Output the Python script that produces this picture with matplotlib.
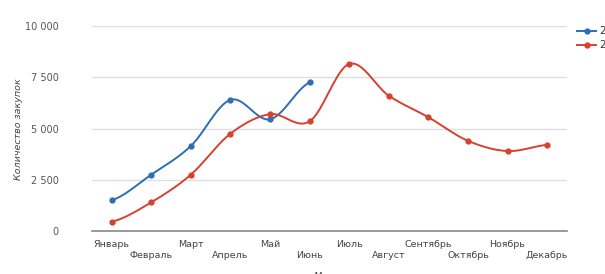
import numpy as np
import matplotlib.pyplot as plt

months = ['Январь', 'Февраль', 'Март', 'Апрель', 'Май', 'Июнь',
          'Июль', 'Август', 'Сентябрь', 'Октябрь', 'Ноябрь', 'Декабрь']
series_names = ['2017', '2016']
blue_vals = [1500, 2750, 4150, 6400, 5450, 7250]
red_vals = [450, 1400, 2750, 4750, 5700, 5350, 8150, 6600, 5550, 4400, 3900, 4200]
y_ticks = [0, 2500, 5000, 7500, 10000]
y_labels = ['0', '2 500', '5 000', '7 500', '10 000']

BLUE = '#2f6db5'
RED = '#d7412f'


def smooth(y, n=20):
    # Catmull-Rom spline through the points, just for drawing the curve
    y = np.asarray(y, dtype=float)
    x = np.arange(len(y), dtype=float)
    p = np.concatenate([[y[0]], y, [y[-1]]])
    xs, ys = [], []
    for i in range(len(y) - 1):
        t = np.linspace(0, 1, n, endpoint=False)
        p0, p1, p2, p3 = p[i], p[i + 1], p[i + 2], p[i + 3]
        yy = 0.5 * (2 * p1 + (-p0 + p2) * t + (2 * p0 - 5 * p1 + 4 * p2 - p3) * t ** 2
                    + (-p0 + 3 * p1 - 3 * p2 + p3) * t ** 3)
        xs.append(x[i] + t)
        ys.append(yy)
    xs.append([x[-1]])
    ys.append([y[-1]])
    return np.concatenate(xs), np.concatenate(ys)


fig = plt.figure(figsize=(6.05, 2.74), dpi=100)
ax = fig.add_axes([0.152, 0.157, 0.785, 0.748])

for vals, color, name in [(blue_vals, BLUE, series_names[0]), (red_vals, RED, series_names[1])]:
    sx, sy = smooth(vals)
    ax.plot(sx, sy, color=color, lw=1.4, zorder=3)
    ax.plot(range(len(vals)), vals, 'o', color=color, ms=3.5, zorder=4)

ax.set_xlim(-0.5, 11.5)
ax.set_ylim(0, 10000)
ax.set_yticks(y_ticks)
ax.set_yticklabels(y_labels)
ax.grid(axis='y', color='#dddddd', lw=0.9)
ax.set_axisbelow(True)
for s in ['top', 'right', 'left']:
    ax.spines[s].set_visible(False)
ax.spines['bottom'].set_color('#888888')
ax.spines['bottom'].set_linewidth(1.2)
ax.tick_params(axis='y', length=0, pad=24, labelsize=7, labelcolor='#555555')
ax.tick_params(axis='x', length=0)
ax.set_xticks(range(len(months)))
ax.set_xticklabels([])

# staggered month labels, two rows
for i, m in enumerate(months):
    yoff = -0.045 if i % 2 == 0 else -0.1
    ax.text(i, yoff, m, transform=ax.get_xaxis_transform(), ha='center', va='top',
            fontsize=6.8, color='#444444')

fig.text(0.03, 0.53, 'Количество закупок', rotation=90, ha='center', va='center',
         fontsize=6.8, style='italic', color='#444444')
fig.text(0.545, -0.01, 'Месяц', ha='center', va='center', fontsize=6.8,
         style='italic', color='#444444')

# legend, cut off by the figure edge like in the source
for k, (name, color) in enumerate([(series_names[0], BLUE), (series_names[1], RED)]):
    yy = 1 - (31 + 14 * k) / 274
    fig.add_artist(plt.Line2D([577 / 605, 596 / 605], [yy, yy], color=color, lw=1.4))
    fig.add_artist(plt.Line2D([586.5 / 605], [yy], marker='o', color=color, ms=3.5))
    fig.text(599 / 605, yy, name, ha='left', va='center', fontsize=7.5, color='#333333')

fig.savefig('out.png', dpi=100)
